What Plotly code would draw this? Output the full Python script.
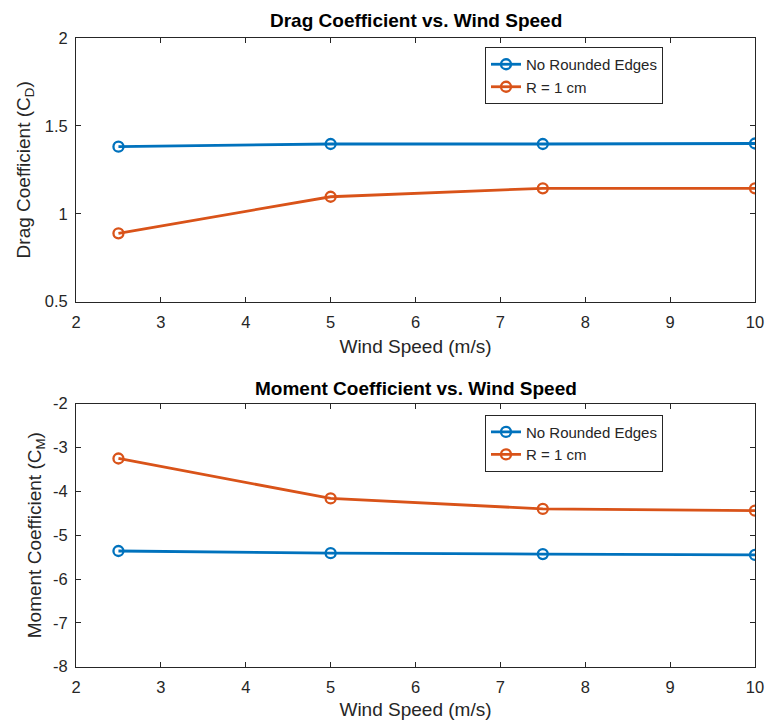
import plotly.graph_objects as go

wind_speed = [2.5, 5, 7.5, 10]
drag_no_round = [1.382, 1.397, 1.397, 1.40]
drag_r1 = [0.889, 1.097, 1.145, 1.145]
moment_no_round = [-5.36, -5.41, -5.43, -5.45]
moment_r1 = [-3.25, -4.16, -4.40, -4.44]

series_names = ["No Rounded Edges", "R = 1 cm"]
colors = ["#0072BD", "#D95319"]

x_ticks = [2, 3, 4, 5, 6, 7, 8, 9, 10]
x_ticklabels = ["2", "3", "4", "5", "6", "7", "8", "9", "10"]
drag_ticks = [0.5, 1, 1.5, 2]
drag_ticklabels = ["0.5", "1", "1.5", "2"]
moment_ticks = [-8, -7, -6, -5, -4, -3, -2]
moment_ticklabels = ["-8", "-7", "-6", "-5", "-4", "-3", "-2"]

FONT = "Liberation Sans, Arial, sans-serif"
TXT = "#262626"

fig = go.Figure()

def add(x, y, name, color, xa, ya, legend):
    fig.add_trace(go.Scatter(
        x=x, y=y, name=name, mode="lines+markers",
        line=dict(color=color, width=2.8),
        marker=dict(symbol="circle-open", size=10, color=color, line=dict(width=2.3, color=color)),
        xaxis=xa, yaxis=ya, legend=legend, showlegend=True))

add(wind_speed, drag_no_round, series_names[0], colors[0], "x", "y", "legend")
add(wind_speed, drag_r1, series_names[1], colors[1], "x", "y", "legend")
add(wind_speed, moment_no_round, series_names[0], colors[0], "x2", "y2", "legend2")
add(wind_speed, moment_r1, series_names[1], colors[1], "x2", "y2", "legend2")

W, H = 766, 720
L, R = 76, 11
top_dom = [1 - 301.7 / H, 1 - 38 / H]
bot_dom = [1 - 666.7 / H, 1 - 403.7 / H]

axis_common = dict(
    showline=True, linecolor=TXT, linewidth=1, mirror="ticks",
    ticks="inside", ticklen=5, tickcolor=TXT, tickwidth=1,
    showgrid=False, zeroline=False, automargin=False,
    tickfont=dict(family=FONT, size=16.5, color=TXT),
)
xcommon = dict(axis_common, ticklabelstandoff=5, tickmode="array",
               tickvals=x_ticks, ticktext=x_ticklabels, range=[2, 10])
ycommon = dict(axis_common, ticklabelstandoff=4, tickmode="array")
title_font = dict(family=FONT, size=19, color=TXT)

fig.update_layout(
    width=W, height=H,
    margin=dict(l=L, r=R, t=0, b=0),
    paper_bgcolor="white", plot_bgcolor="white",
    font=dict(family=FONT, color=TXT),
    xaxis=dict(domain=[0, 1], anchor="y",
               title=dict(text="Wind Speed (m/s)", font=title_font, standoff=10),
               **xcommon),
    yaxis=dict(domain=top_dom, anchor="x", range=[0.5, 2],
               tickvals=drag_ticks, ticktext=drag_ticklabels,
               title=dict(text="Drag Coefficient (C<sub>D</sub>)", font=title_font, standoff=9),
               **ycommon),
    xaxis2=dict(domain=[0, 1], anchor="y2",
                title=dict(text="Wind Speed (m/s)", font=title_font, standoff=10),
                **xcommon),
    yaxis2=dict(domain=bot_dom, anchor="x2", range=[-8, -2],
                tickvals=moment_ticks, ticktext=moment_ticklabels,
                title=dict(text="Moment Coefficient (C<sub>M</sub>)", font=title_font, standoff=6),
                **ycommon),
    legend=dict(x=(485 - L) / (W - L - R), y=1 - 47 / H, xanchor="left", yanchor="top",
                bordercolor=TXT, borderwidth=1, bgcolor="white",
                font=dict(family=FONT, size=15, color=TXT), tracegroupgap=0),
    legend2=dict(x=(485 - L) / (W - L - R), y=1 - 414.7 / H, xanchor="left", yanchor="top",
                 bordercolor=TXT, borderwidth=1, bgcolor="white",
                 font=dict(family=FONT, size=15, color=TXT), tracegroupgap=0),
    annotations=[
        dict(text="<b>Drag Coefficient vs. Wind Speed</b>", x=0.5, y=1 - 20 / H,
             xref="paper", yref="paper", showarrow=False, xanchor="center", yanchor="middle",
             font=dict(family=FONT, size=19, color="black")),
        dict(text="<b>Moment Coefficient vs. Wind Speed</b>", x=0.5, y=1 - 388 / H,
             xref="paper", yref="paper", showarrow=False, xanchor="center", yanchor="middle",
             font=dict(family=FONT, size=19, color="black")),
    ],
)

fig.write_html("out.html", post_script="document.body.style.margin='0';",
               config={"displayModeBar": False})
